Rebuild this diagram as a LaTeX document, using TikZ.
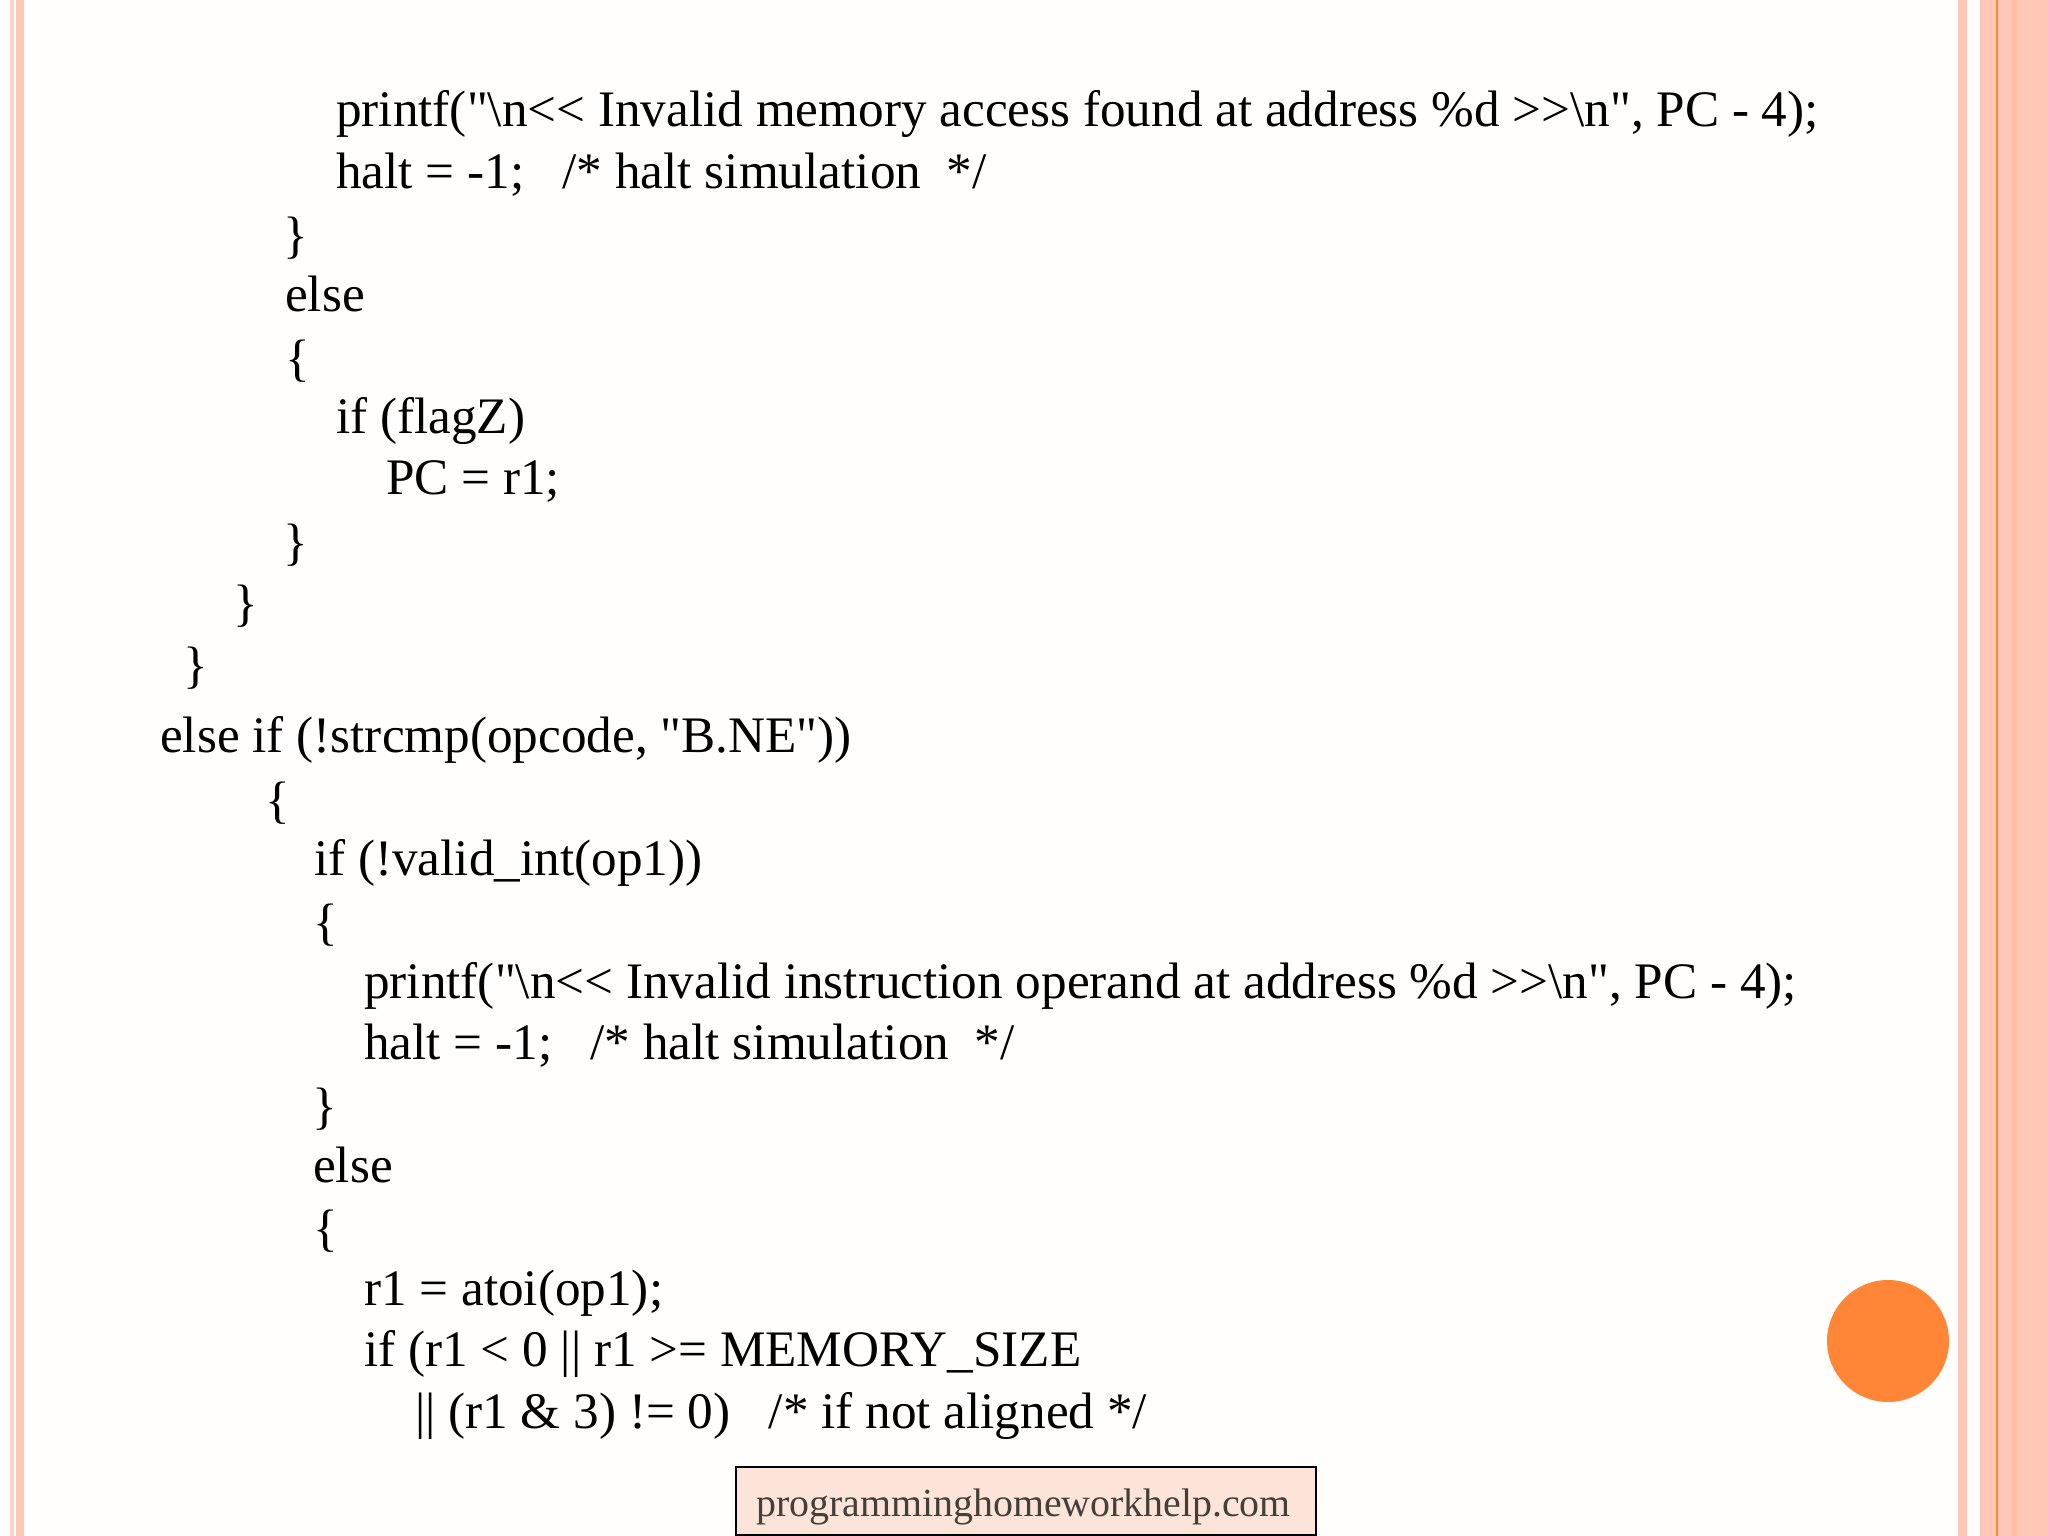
\documentclass[tikz,border=0pt]{standalone}
\usepackage{fontspec}
\newfontfamily\codefont{Liberation Serif}
\newcommand{\bsl}{\char`\\}
\definecolor{stripe}{HTML}{FFC7B5}
\definecolor{stripedark}{HTML}{FFBDA8}
\definecolor{stripelight}{HTML}{FDD3C6}
\definecolor{accent}{HTML}{FF8637}
\definecolor{paper}{HTML}{FFFEFD}
\definecolor{tagfill}{HTML}{FDE4DA}
\definecolor{tagtext}{HTML}{444038}
\tikzset{
  x=1pt,y=-1pt,
  codeline/.style={anchor=base west,inner sep=0pt,text=black,font=\codefont\fontsize{51.2}{51.2}\selectfont},
  band/.style={draw=none,fill=stripe},
}
\begin{document}
\begin{tikzpicture}
\useasboundingbox (0,0) rectangle (2048,1536);
\fill[paper] (0,0) rectangle (2048,1536);
% left stripes
\fill[stripelight] (10,0) rectangle (14,1536);
\fill[band] (16,0) rectangle (24,1536);
% right stripes
\fill[band] (1958,0) rectangle (1967,1536);
\fill[band] (1980,0) rectangle (2048,1536);
\fill[accent] (1996,0) rectangle (1998,1536);
\fill[stripedark] (2012,0) rectangle (2017,1536);
% circle
\fill[accent] (1888,1341) circle[radius=61];
% code
\node[codeline] (l1) at (336,127) {printf("\bsl n<{}< Invalid memory access found at address \%d >{}>\bsl n", PC - 4);};
\node[codeline] (l2) at (336,188) {halt = -1;\ \ \ /* halt simulation\ \ */};
\node[codeline] (l3) at (283,252) {\}};
\node[codeline] (l4) at (285,311) {else};
\node[codeline] (l5) at (285,375) {\{};
\node[codeline] (l6) at (336,433) {if (flagZ)};
\node[codeline] (l7) at (386,494) {PC = r1;};
\node[codeline] (l8) at (283,559) {\}};
\node[codeline] (l9) at (233,620) {\}};
\node[codeline] (l10) at (183,682) {\}};
\node[codeline] (l11) at (160,752) {else if (!strcmp(opcode, "B.NE"))};
\node[codeline] (l12) at (265,817) {\{};
\node[codeline] (l13) at (314,875) {if (!valid\_int(op1))};
\node[codeline] (l14) at (313,939) {\{};
\node[codeline] (l15) at (364,998) {printf("\bsl n<{}< Invalid instruction operand at address \%d >{}>\bsl n", PC - 4);};
\node[codeline] (l16) at (364,1059) {halt = -1;\ \ \ /* halt simulation\ \ */};
\node[codeline] (l17) at (312,1123) {\}};
\node[codeline] (l18) at (313,1182) {else};
\node[codeline] (l19) at (313,1245) {\{};
\node[codeline] (l20) at (364,1305) {r1 = atoi(op1);};
\node[codeline] (l21) at (364,1366) {if (r1 < 0 || r1 >= MEMORY\_SIZE};
\node[codeline] (l22) at (415,1428) {|| (r1 \& 3) != 0)\ \ \ /* if not aligned */};
% footer tag
\draw[fill=tagfill,draw=black,line width=2pt] (736,1467) rectangle (1316,1535);
\node[anchor=base west,inner sep=0pt,text=tagtext,font=\codefont\fontsize{39.85}{39.85}\selectfont] (tag) at (756,1516) {programminghomeworkhelp.com};
\end{tikzpicture}
\end{document}
